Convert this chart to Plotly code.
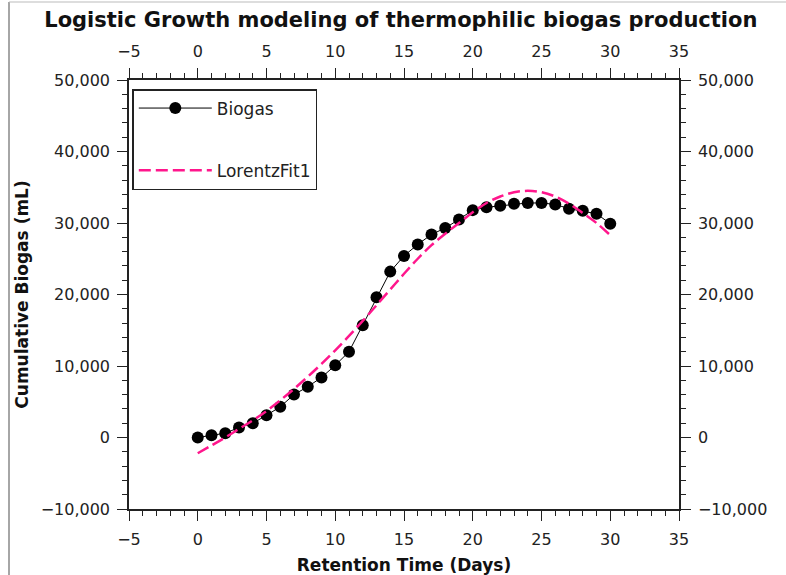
import plotly.graph_objects as go

# Data
days = list(range(0, 31))
biogas = [0, 300, 600, 1400, 2000, 3100, 4300, 6000, 7100, 8400, 10100,
          12000, 15700, 19600, 23200, 25400, 27000, 28400, 29300, 30500, 31800,
          32200, 32400, 32700, 32800, 32800, 32600, 32000, 31700, 31300, 29900]
fit_days = list(range(0, 31))
fit_vals = [-2200, -1100, 0, 1200, 2400, 3700, 5200, 6800, 8500, 10300, 12200,
            14200, 16300, 18500, 20700, 22900, 25000, 26900, 28500, 30000, 31500,
            32800, 33700, 34300, 34500, 34300, 33700, 32700, 31400, 30000, 28300]

title_text = "Logistic Growth modeling of thermophilic biogas production"
x_title = "Retention Time (Days)"
y_title = "Cumulative Biogas (mL)"
x_range = [-5, 35]
y_range = [-10000, 50000]

FONT = "DejaVu Sans"
TXT = "#222222"
PINK = "#FF168C"

fig = go.Figure()
fig.add_trace(go.Scatter(
    x=days, y=biogas, mode="lines+markers", name="Biogas",
    line=dict(color="black", width=1),
    marker=dict(color="black", size=12),
    legendgroup="a",
))
fig.add_trace(go.Scatter(
    x=fit_days, y=fit_vals, mode="lines", name="LorentzFit1",
    line=dict(color=PINK, width=2.5, dash="12px,5px", shape="spline"),
    legendgroup="b",
))
# invisible trace to activate top/right axes
fig.add_trace(go.Scatter(
    x=[x_range[0]], y=[y_range[0]], xaxis="x2", yaxis="y2",
    mode="markers", marker=dict(opacity=0), showlegend=False, hoverinfo="skip",
))

common_x = dict(
    range=x_range, tickmode="linear", tick0=-5, dtick=5,
    ticks="outside", ticklen=10, tickwidth=1, tickcolor="#222",
    minor=dict(ticks="outside", ticklen=5, dtick=1, tickcolor="#222", tickwidth=1),
    showline=True, linecolor="#222", linewidth=1.5,
    showgrid=False, zeroline=False, automargin=False,
    tickfont=dict(family=FONT, size=16, color=TXT),
    ticklabelstandoff=5,
)
common_y = dict(
    range=y_range, tickmode="linear", tick0=-10000, dtick=10000,
    ticks="outside", ticklen=10, tickwidth=1, tickcolor="#222",
    minor=dict(ticks="outside", ticklen=5, dtick=2000, tickcolor="#222", tickwidth=1),
    showline=True, linecolor="#222", linewidth=1.5,
    showgrid=False, zeroline=False, tickformat=",d", automargin=False,
    tickfont=dict(family=FONT, size=16, color=TXT),
    ticklabelstandoff=4,
)

fig.update_layout(
    width=786, height=575,
    margin=dict(l=129, r=107, t=80, b=66),
    paper_bgcolor="white", plot_bgcolor="white",
    font=dict(family=FONT, color=TXT),
    title=dict(text="<b>" + title_text + "</b>", x=0.51, xref="container",
               xanchor="center", y=0.965, yanchor="middle",
               font=dict(family=FONT, size=21, color="#111")),
    xaxis=dict(**common_x, title=dict(text="<b>" + x_title + "</b>",
               font=dict(family=FONT, size=17, color="#111"), standoff=15)),
    yaxis=dict(**common_y, title=dict(text="<b>" + y_title + "</b>",
               font=dict(family=FONT, size=17, color="#111"), standoff=8)),
    xaxis2=dict(**common_x, overlaying="x", side="top", anchor="y"),
    yaxis2=dict(**common_y, overlaying="y", side="right", anchor="x"),
    showlegend=True,
    legend=dict(x=0.006, y=0.979, xanchor="left", yanchor="top",
                bordercolor="#222", borderwidth=1.5, bgcolor="white",
                font=dict(family=FONT, size=17, color=TXT),
                traceorder="grouped", tracegroupgap=37, itemwidth=73),
    shapes=[
        dict(type="line", xref="paper", yref="paper",
             x0=(9 - 129) / 550, x1=(9 - 129) / 550, y0=-66 / 429, y1=(509 - 2) / 429,
             line=dict(color="#888", width=1.5)),
        dict(type="line", xref="paper", yref="paper",
             x0=(9 - 129) / 550, x1=(786 - 129) / 550, y0=(509 - 2) / 429, y1=(509 - 2) / 429,
             line=dict(color="#bbb", width=1)),
    ],
)

fig.write_html("out.html")
